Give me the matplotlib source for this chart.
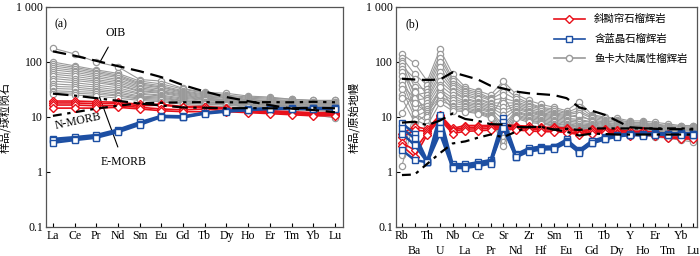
import matplotlib
matplotlib.use("Agg")
import matplotlib.pyplot as plt
from matplotlib.lines import Line2D

plt.rcParams['font.family'] = ['Liberation Serif', 'Noto Sans CJK SC']
plt.rcParams['font.size'] = 8.5

# ================= DATA =================
ree = ["La", "Ce", "Pr", "Nd", "Sm", "Eu", "Gd", "Tb", "Dy", "Ho", "Er", "Tm", "Yb", "Lu"]
spider = ["Rb", "Ba", "Th", "U", "Nb", "La", "Ce", "Pr", "Sr", "Nd", "Zr", "Hf",
          "Sm", "Eu", "Ti", "Gd", "Tb", "Dy", "Y", "Ho", "Er", "Tm", "Yb", "Lu"]

# reference curves, chondrite normalised
oib_a = [156, 130, 105, 84, 68, 53, 38, 29, 23, 19.4, 16.4, 14.2, 13.4, 12.2]
emorb_a = [26.6, 24.5, 22, 19.7, 17.6, 16.2, 14.9, 14.7, 14.4, 14.5, 14.4, 14.4, 14.7, 14.4]
nmorb_a = [10.5, 12.2, 14.2, 16, 17.8, 18.1, 18.5, 18.6, 18.5, 18.5, 18.6, 18.5, 18.9, 18.5]

# reference curves, primitive mantle normalised
oib_b = [49.6, 48, 47, 48, 65, 56, 48, 37, 33, 29, 27, 26, 25, 22, 15, 13, 11, 8.5,
         6.5, 6.3, 6.1, 6.0, 6.0, 5.9]
emorb_b = [7.9, 8.2, 7.1, 8.6, 11.6, 9.2, 8.5, 7.4, 7.3, 6.6, 6.5, 6.6, 5.9, 5.4, 4.6,
           5.0, 4.9, 4.8, 4.8, 4.8, 4.8, 4.8, 4.8, 4.8]
nmorb_b = [0.88, 0.9, 1.41, 2.2, 3.3, 3.6, 4.2, 4.8, 4.3, 5.4, 6.6, 6.6, 5.9, 6.1, 5.8,
           6.2, 6.2, 6.2, 6.2, 6.2, 6.2, 6.2, 6.2, 6.1]

# continental eclogites (gray), REE
gray_a = [
    [178, 140, 100, 82, 48, 45, 33, 28, 27, 24, 23, 21, 20, 20],
    [100, 85, 72, 62, 45, 40, 32, 27, 25, 23, 22, 21, 20, 20],
    [92, 80, 68, 58, 42, 37, 30, 26, 24, 22, 21, 20, 19, 19],
    [85, 75, 64, 55, 40, 35, 29, 25, 23, 21, 20, 19.5, 18.5, 18.5],
    [78, 70, 60, 52, 38, 34, 28, 24, 22.5, 20.5, 19.5, 19, 18, 18],
    [72, 65, 56, 48, 36, 32, 27, 23, 22, 20, 19, 18.5, 17.5, 17.5],
    [65, 60, 52, 45, 34, 30, 26, 22, 21, 19.5, 18.5, 18, 17, 17],
    [60, 55, 48, 42, 32, 29, 25, 21.5, 20.5, 19, 18, 17.5, 16.5, 16.5],
    [55, 50, 45, 39, 30, 28, 24, 21, 20, 18.5, 17.5, 17, 16, 16],
    [50, 46, 42, 37, 29, 27, 23, 20.5, 19.5, 18, 17, 16.5, 15.5, 15.5],
    [45, 42, 38, 34, 27, 25, 22, 20, 19, 17.5, 16.5, 16, 15, 15],
    [40, 38, 35, 31, 26, 24, 21, 19, 18.5, 17, 16, 15.5, 14.5, 14.5],
    [36, 35, 32, 29, 24, 23, 20, 18.5, 18, 16.5, 15.5, 15, 14.5, 14],
    [33, 32, 30, 27, 23, 22, 19.5, 18, 17.5, 16, 15, 14.5, 14, 13.5],
    [30, 29, 28, 25, 22, 21, 19, 17.5, 17, 15.5, 14.5, 14, 13.5, 13],
    [28, 27, 26, 24, 21, 20, 18, 17, 16.5, 15, 14, 13.5, 13, 12.5],
    [26, 25, 24, 22, 20, 19, 17, 16, 15.5, 14, 13, 12, 11, 9.6],
]

# diopside-epidote eclogite (red), REE
red_a = [
    [19.5, 19.5, 19, 18.5, 17, 17, 15.5, 15.5, 14.5, 13.5, 13, 12.5, 12, 12],
    [18, 18, 17.5, 17.5, 16, 16.5, 15, 15, 14, 13, 12.5, 12, 11.5, 11.5],
    [16.5, 16.5, 16, 16, 15, 14, 13.5, 14, 13, 12.5, 12, 11.5, 11, 11],
    [14.5, 14.5, 14.5, 15, 14, 13, 12.5, 12.5, 12.5, 12, 11.5, 11, 10.5, 10.5],
]

# kyanite eclogite (blue), REE
blue_a = [
    [4.0, 4.3, 4.7, 5.9, 8.0, 10.5, 10.3, 12, 13, 13.8, 14.5, 14.5, 14.5, 14.5],
    [3.8, 4.0, 4.4, 5.6, 7.6, 10.2, 10.0, 11.8, 12.8, 13.5, 14.2, 14.2, 14.3, 14.3],
    [3.4, 3.8, 4.2, 5.3, 7.2, 10.0, 9.8, 11.5, 12.5, 13.3, 14.0, 14.0, 14.0, 14.0],
]

# continental eclogites (gray), trace elements
gray_b = [
    [140, 95, 45, 170, 60, 35, 30, 25, 45, 26, 20, 17, 15, 13, 19, 11, 10, 9.5, 8.5, 8.5, 8, 7.5, 7, 7],
    [120, 60, 38, 140, 50, 32, 28, 22, 35, 23, 18, 15, 14, 12, 15, 10.5, 9.5, 9, 8, 8, 7.5, 7, 6.8, 6.8],
    [105, 35, 32, 120, 45, 30, 26, 21, 28, 21, 17, 14.5, 13, 11.5, 13, 10, 9, 8.5, 7.8, 7.8, 7.2, 6.8, 6.5, 6.5],
    [95, 25, 28, 100, 40, 28, 24, 20, 22, 19, 16, 14, 12, 11, 12, 9.5, 8.5, 8, 7.5, 7.5, 7, 6.5, 6.3, 6.2],
    [85, 50, 25, 80, 36, 26, 22, 18, 18, 18, 15, 13, 11.5, 10.5, 10, 9, 8, 7.6, 7.2, 7.2, 6.8, 6.3, 6, 6],
    [75, 20, 22, 65, 33, 24, 21, 17, 15, 17, 14, 12, 11, 10, 11, 8.5, 7.8, 7.3, 7, 7, 6.5, 6.2, 5.8, 5.8],
    [65, 30, 20, 55, 30, 22, 19, 16, 13, 16, 13, 11.5, 10.5, 9.5, 9, 8.2, 7.5, 7, 6.8, 6.8, 6.3, 6, 5.6, 5.6],
    [55, 15, 18, 45, 28, 21, 18, 15, 11, 15, 12.5, 11, 10, 9, 8.5, 8, 7.2, 6.8, 6.5, 6.5, 6, 5.8, 5.4, 5.3],
    [45, 12, 16, 38, 25, 19, 17, 14, 9, 14, 12, 10.5, 9.5, 8.5, 8, 7.5, 7, 6.5, 6.2, 6.2, 5.8, 5.5, 5.2, 5.1],
    [38, 22, 14, 32, 22, 18, 16, 13, 7, 13, 11, 10, 9, 8, 7.5, 7.2, 6.7, 6.3, 6, 6, 5.6, 5.3, 5, 4.9],
    [32, 10, 13, 28, 20, 17, 15, 12.5, 6, 12.5, 10.5, 9.5, 8.5, 7.6, 7, 7, 6.5, 6.1, 5.8, 5.8, 5.4, 5.1, 4.8, 4.7],
    [25, 18, 12, 24, 18, 16, 14, 12, 5, 12, 10, 9, 8, 7.2, 6.8, 6.7, 6.2, 5.9, 5.6, 5.5, 5.2, 4.9, 4.6, 4.5],
    [22, 8, 11, 20, 16, 15, 13, 11, 4.2, 11, 9.5, 8.5, 7.6, 7, 6.5, 6.4, 6, 5.7, 5.4, 5.3, 5, 4.7, 4.4, 4.2],
    [12, 28, 10, 35, 15, 14, 12.5, 10.5, 3.5, 10.5, 9, 8, 7.2, 6.6, 6.2, 6.1, 5.7, 5.5, 5.1, 5.1, 4.8, 4.5, 4.2, 4],
    [2, 12, 8, 25, 14, 13, 12, 10, 3, 10, 8.5, 7.8, 7, 6.3, 6, 5.8, 5.5, 5.2, 4.9, 4.9, 4.5, 4.3, 4, 3.8],
    [1.3, 9, 7, 18, 13, 12.5, 11.5, 9.5, 25, 9.5, 8, 7.5, 6.8, 6, 5.8, 5.6, 5.3, 5, 4.7, 4.7, 4.3, 4.1, 3.8, 3.5],
]

red_b = [
    [5.0, 6.7, 6.0, 11, 6.2, 7, 7, 7, 7.2, 7, 6.8, 6.5, 6.5, 6.3, 5.5, 6, 6, 5.8, 5.5, 5.5, 5.3, 5, 4.8, 4.8],
    [4.3, 5.8, 5.5, 10.5, 5.8, 6.5, 6.5, 6.7, 6.8, 6.6, 6.3, 6.2, 6.2, 6, 5.3, 5.7, 5.8, 5.5, 5.2, 5.3, 5, 4.7, 4.5, 4.5],
    [3.4, 2.5, 5.2, 9.5, 5.5, 6.0, 6.1, 6.2, 6.5, 6.2, 6, 5.8, 5.8, 5.5, 5.0, 5.3, 5.5, 5.2, 4.9, 5, 4.7, 4.4, 4.2, 4.2],
    [3.0, 1.9, 4.8, 9.0, 5.0, 5.5, 5.6, 5.8, 6.2, 5.8, 5.6, 5.4, 5.4, 5.2, 4.8, 5, 5.2, 5, 4.6, 4.8, 4.5, 4.2, 4, 4],
]

blue_b = [
    [7.7, 5.0, 1.6, 10.9, 1.4, 1.38, 1.5, 1.65, 9.6, 2.1, 2.7, 2.9, 2.9, 3.9, 2.5, 3.7, 4.3, 4.7, 5.0, 4.9, 5.1, 5.0, 5.1, 5.0],
    [6.2, 4.1, 1.55, 8.2, 1.3, 1.28, 1.4, 1.55, 8.0, 2.0, 2.55, 2.75, 2.8, 3.7, 2.4, 3.6, 4.2, 4.6, 4.9, 4.8, 5.0, 4.9, 5.0, 4.9],
    [5.0, 3.1, 1.5, 6.2, 1.22, 1.22, 1.33, 1.47, 6.8, 1.9, 2.45, 2.65, 2.7, 3.5, 2.3, 3.4, 4.0, 4.5, 4.8, 4.7, 4.9, 4.8, 4.9, 4.8],
    [2.5, 1.65, 1.5, 5.0, 1.18, 1.18, 1.28, 1.42, 6.2, 1.85, 2.35, 2.55, 2.6, 3.4, 2.25, 3.3, 3.9, 4.4, 4.7, 4.6, 4.8, 4.7, 4.8, 4.7],
]

legend_labels = ["斜黝帘石榴辉岩", "含蓝晶石榴辉岩", "鱼卡大陆属性榴辉岩"]

GRAY = '#9a9a9a'
RED = '#e8101a'
BLUE = '#1d4fa3'
cjk = ['Noto Sans CJK SC', 'DejaVu Sans']

# ================= PLOT =================
fig = plt.figure(figsize=(7, 2.56), dpi=100)
ax1 = fig.add_axes([0.0657, 0.1133, 0.4243, 0.8594])
ax2 = fig.add_axes([0.5657, 0.1133, 0.4300, 0.8594])


def draw(ax, n, gray, red, blue, oib, emorb, nmorb):
    x = list(range(n))
    for s in gray:
        ax.plot(x, s, color=GRAY, lw=0.8, marker='o', ms=4.5, mfc='white',
                mec=GRAY, mew=0.9, zorder=2)
    for s in red:
        ax.plot(x, s, color=RED, lw=1.2, marker='D', ms=4.5, mfc='white',
                mec=RED, mew=1.0, zorder=4)
    for s in blue:
        ax.plot(x, s, color=BLUE, lw=1.8, marker='s', ms=4.2, mfc='white',
                mec=BLUE, mew=1.0, zorder=5)
    ax.plot(x, oib, color='black', lw=1.6, dashes=(6, 3), zorder=6)
    ax.plot(x, emorb, color='black', lw=1.6, dashes=(7, 2.5, 1.5, 2.5), zorder=6)
    ax.plot(x, nmorb, color='black', lw=1.6, dashes=(4, 2.5, 1.5, 2.5), zorder=6)
    ax.set_yscale('log')
    ax.set_ylim(0.1, 1000)
    ax.set_yticks([0.1, 1, 10, 100, 1000])
    ax.set_yticklabels(['0.1', '1', '10', '100', '1 000'])
    ax.minorticks_off()
    ax.tick_params(direction='in', length=3, width=0.8, pad=2)
    for sp in ax.spines.values():
        sp.set_color('#555555')
        sp.set_linewidth(0.9)


# -------- (a) REE --------
draw(ax1, len(ree), gray_a, red_a, blue_a, oib_a, emorb_a, nmorb_a)
ax1.set_xlim(-0.32, len(ree) - 1 + 0.37)
ax1.set_xticks(range(len(ree)))
ax1.set_xticklabels(ree)
ax1.set_ylabel('样品/球粒陨石', family=cjk, fontsize=8)
ax1.yaxis.set_label_coords(-0.12, 0.5)
ax1.text(0.03, 0.95, '(a)', transform=ax1.transAxes, va='top', fontsize=8.5)
ax1.annotate('OIB', xy=(2.2, 105), xytext=(2.9, 330), ha='center', va='center',
             arrowprops=dict(arrowstyle='-', color='black', lw=0.8, shrinkA=4, shrinkB=0))
ax1.annotate('E-MORB', xy=(2.15, 23), xytext=(3.25, 1.5), ha='center', va='center',
             arrowprops=dict(arrowstyle='-', color='black', lw=0.8, shrinkA=5, shrinkB=0))
ax1.text(1.15, 8.4, 'N-MORB', ha='center', va='center', rotation=12, fontsize=8.5)

# -------- (b) spider --------
draw(ax2, len(spider), gray_b, red_b, blue_b, oib_b, emorb_b, nmorb_b)
ax2.set_xlim(-0.47, len(spider) - 1 + 0.3)
ax2.set_xticks(range(len(spider)))
ax2.set_xticklabels(spider)
# stagger the element names on two rows
for i, tick in enumerate(ax2.xaxis.get_major_ticks()):
    if i % 2 == 1:
        tick.set_pad(13)
ax2.set_ylabel('样品/原始地幔', family=cjk, fontsize=8)
ax2.yaxis.set_label_coords(-0.12, 0.5)
ax2.text(0.03, 0.95, '(b)', transform=ax2.transAxes, va='top', fontsize=8.5)

handles = [
    Line2D([], [], color=RED, lw=1.2, marker='D', ms=4.5, mfc='white', mec=RED),
    Line2D([], [], color=BLUE, lw=1.2, marker='s', ms=4.2, mfc='white', mec=BLUE),
    Line2D([], [], color=GRAY, lw=1.2, marker='o', ms=4.5, mfc='white', mec=GRAY),
]
ax2.legend(handles, legend_labels, loc='upper right', bbox_to_anchor=(1.0, 1.01),
           frameon=False, handlelength=3.0, handletextpad=0.9, labelspacing=0.95,
           prop={'family': cjk, 'size': 7.5})

fig.savefig('out.png', dpi=100)
